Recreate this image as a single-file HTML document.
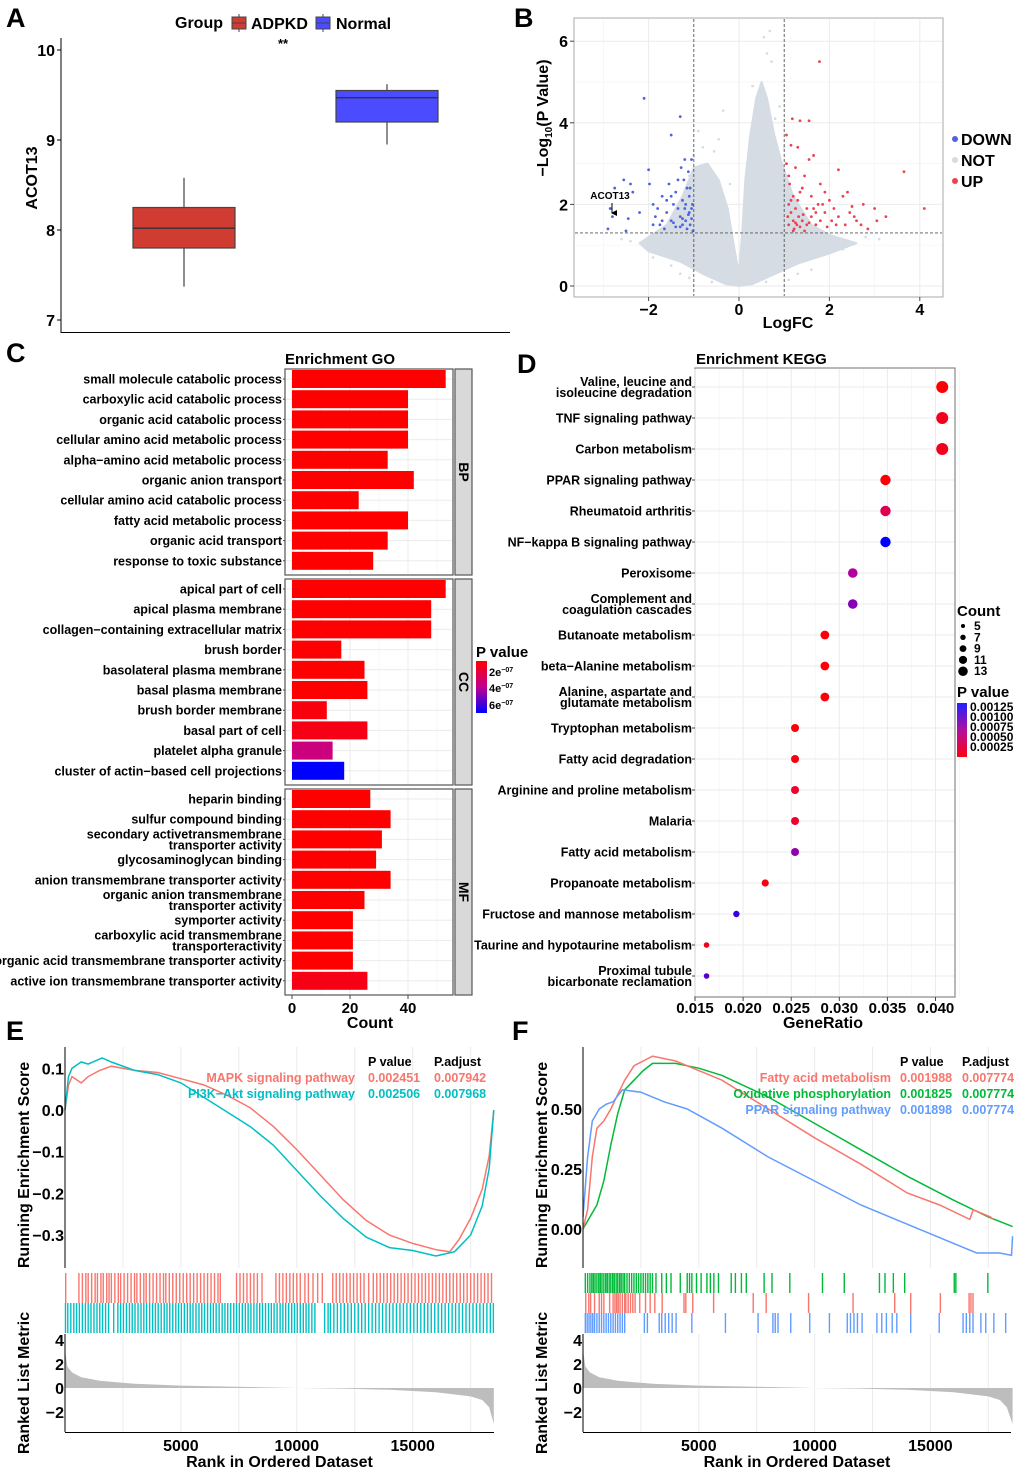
<!DOCTYPE html>
<html><head><meta charset="utf-8"><style>
html,body{margin:0;padding:0;background:#fff;}
svg{display:block;font-family:"Liberation Sans",Arial,sans-serif;font-weight:bold;}
</style></head><body>
<svg id="fig" width="1020" height="1471" viewBox="0 0 1020 1471" xmlns="http://www.w3.org/2000/svg">
<defs>
<linearGradient id="gGO" x1="0" y1="0" x2="0" y2="1"><stop offset="0" stop-color="#ff0000"/><stop offset="0.5" stop-color="#c0008f"/><stop offset="1" stop-color="#0000ff"/></linearGradient>
<linearGradient id="gKEGG" x1="0" y1="0" x2="0" y2="1"><stop offset="0" stop-color="#2020ff"/><stop offset="0.5" stop-color="#b010a0"/><stop offset="1" stop-color="#ff0010"/></linearGradient>
<marker id="arr" markerWidth="6" markerHeight="6" refX="3" refY="5" orient="auto"><path d="M0,0 L3,6 L6,0 Z" fill="#000"/></marker>
</defs>
</svg>
<script>
// ---------- DATA ----------
const boxGroups = ['ADPKD','Normal'];
const boxLow = [7.37, 8.95];
const boxQ1 = [7.80, 9.20];
const boxMed = [8.02, 9.47];
const boxQ3 = [8.25, 9.55];
const boxHigh = [8.58, 9.62];
const boxTicks = [7, 8, 9, 10];

const volDown = [[-2.85,1.9],[-2.75,2.4],[-2.55,2.6],[-2.4,2.5],[-2.35,2.3],[-2.1,4.6],[-2.0,2.85],[-1.98,2.5],[-1.9,2.0],[-1.85,1.7],[-1.8,1.9],[-1.75,1.5],[-1.7,2.2],[-1.65,1.4],[-1.6,1.8],[-1.55,2.5],[-1.5,3.7],[-1.5,1.6],[-1.45,2.0],[-1.4,2.3],[-1.4,1.45],[-1.35,2.6],[-1.3,4.15],[-1.3,1.7],[-1.28,2.9],[-1.25,1.5],[-1.25,2.1],[-1.2,1.9],[-1.2,3.1],[-1.18,1.6],[-1.15,2.4],[-1.15,1.4],[-1.12,2.8],[-1.1,1.8],[-1.1,2.2],[-1.08,1.5],[-1.05,3.1],[-1.05,1.65],[-1.03,2.0],[-1.02,1.35],[-1.6,2.1],[-1.7,1.6],[-1.9,1.5],[-2.2,1.8],[-2.5,1.35],[-2.9,1.4],[-2.45,1.65],[-1.35,1.9],[-1.22,2.6],[-1.45,1.55],[-2.8,1.7],[-1.12,1.75],[-1.08,2.4],[-1.3,1.45],[-1.5,2.2],[-1.05,1.9],[-1.18,2.0],[-1.25,1.65]];
const volUp = [[1.05,3.7],[1.05,3.0],[1.1,2.0],[1.1,1.5],[1.12,2.5],[1.15,3.45],[1.15,1.8],[1.18,4.1],[1.2,1.6],[1.2,2.2],[1.22,1.4],[1.25,2.9],[1.25,1.9],[1.28,1.5],[1.3,3.4],[1.3,2.1],[1.32,1.7],[1.35,4.05],[1.35,1.45],[1.4,2.4],[1.4,1.6],[1.45,2.7],[1.5,1.9],[1.5,1.5],[1.55,4.05],[1.55,3.1],[1.6,2.2],[1.6,1.7],[1.65,3.2],[1.7,1.5],[1.75,2.0],[1.78,5.5],[1.8,2.5],[1.8,1.6],[1.9,1.8],[1.95,1.45],[2.0,2.1],[2.05,1.6],[2.1,1.9],[2.2,2.85],[2.2,1.7],[2.3,2.2],[2.35,1.5],[2.4,2.3],[2.45,1.8],[2.5,1.95],[2.6,1.6],[2.7,1.5],[2.75,2.0],[2.85,1.4],[3.0,1.9],[3.05,1.6],[3.25,1.7],[3.65,2.8],[4.1,1.9],[1.1,2.7],[1.2,1.35],[1.45,1.35],[1.65,1.9],[1.9,2.3],[1.08,1.7],[1.15,2.1],[1.25,1.55],[1.35,2.3],[1.42,1.75],[1.55,1.55],[1.7,1.8],[1.85,2.0],[2.15,1.5],[2.55,1.7]];
const volNotOutline = [[-2.2,1.05],[-1.6,1.5],[-1.25,2.2],[-1.0,2.9],[-0.7,3.0],[-0.45,2.6],[-0.25,1.9],[-0.1,0.9],[0,0.3],[0.07,1.3],[0.14,2.6],[0.25,3.7],[0.38,4.6],[0.5,5.0],[0.62,4.6],[0.78,3.7],[0.95,3.0],[1.2,2.2],[1.6,1.5],[2.0,1.25],[2.6,1.05],[2.0,0.8],[1.3,0.55],[0.8,0.3],[0.3,0.05],[0,0],[-0.3,0.05],[-0.8,0.3],[-1.3,0.6],[-2.0,0.85]];
const volNotScatter = [[0.55,6.1],[0.68,6.25],[0.62,5.7],[0.72,5.5],[-0.35,4.3],[-0.9,3.8],[-0.55,3.3],[-0.45,3.6],[0.8,4.1],[-1.8,1.2],[-2.4,1.1],[-1.6,0.9],[1.8,1.0],[2.8,1.2],[3.1,1.15],[1.4,0.6],[-1.3,0.3],[1.3,0.3],[0.9,4.4],[0.3,4.9],[-1.0,3.2],[-0.8,3.4],[-0.2,2.5],[-1.1,2.7],[1.0,3.4],[-0.95,1.0],[0.95,1.0],[-1.5,0.5],[1.6,0.4],[2.3,0.9],[-2.6,1.15],[-1.9,0.7],[-0.6,0.1],[0.6,0.1],[1.1,0.15],[-1.1,0.2]];
const volXTicks = [-2, 0, 2, 4];
const volYTicks = [0, 2, 4, 6];

const goTerms = ['small molecule catabolic process','carboxylic acid catabolic process','organic acid catabolic process','cellular amino acid metabolic process','alpha\u2212amino acid metabolic process','organic anion transport','cellular amino acid catabolic process','fatty acid metabolic process','organic acid transport','response to toxic substance','apical part of cell','apical plasma membrane','collagen\u2212containing extracellular matrix','brush border','basolateral plasma membrane','basal plasma membrane','brush border membrane','basal part of cell','platelet alpha granule','cluster of actin\u2212based cell projections','heparin binding','sulfur compound binding','secondary activetransmembrane|transporter activity','glycosaminoglycan binding','anion transmembrane transporter activity','organic anion transmembrane|transporter activity','symporter activity','carboxylic acid transmembrane|transporteractivity','organic acid transmembrane transporter activity','active ion transmembrane transporter activity'];
const goCounts = [53,40,40,40,33,42,23,40,33,28, 53,48,48,17,25,26,12,26,14,18, 27,34,31,29,34,25,21,21,21,26];
const goPvals = [0.2,0.2,0.2,0.2,0.2,0.2,0.2,0.2,0.2,0.2, 0.2,0.2,0.2,0.2,0.2,0.2,0.5,0.7,3.0,7.0, 0.2,0.2,0.2,0.2,0.2,0.2,0.2,0.2,0.2,0.7];
const goOntology = ['BP','CC','MF'];
const goXTicks = [0, 20, 40];

const keggTerms = ['Valine, leucine and|isoleucine degradation','TNF signaling pathway','Carbon metabolism','PPAR signaling pathway','Rheumatoid arthritis','NF\u2212kappa B signaling pathway','Peroxisome','Complement and|coagulation cascades','Butanoate metabolism','beta\u2212Alanine metabolism','Alanine, aspartate and|glutamate metabolism','Tryptophan metabolism','Fatty acid degradation','Arginine and proline metabolism','Malaria','Fatty acid metabolism','Propanoate metabolism','Fructose and mannose metabolism','Taurine and hypotaurine metabolism','Proximal tubule|bicarbonate reclamation'];
const keggRatio = [0.0407,0.0407,0.0407,0.0348,0.0348,0.0348,0.0314,0.0314,0.0285,0.0285,0.0285,0.0254,0.0254,0.0254,0.0254,0.0254,0.0223,0.0193,0.0162,0.0162];
const keggCount = [14,14,14,12,12,12,11,11,10,10,10,9,9,9,9,9,8,7,6,6];
const keggPval = [0.00002,0.00012,0.00012,0.00003,0.00035,0.00130,0.00070,0.00085,0.00003,0.00003,0.00003,0.00004,0.00008,0.00020,0.00020,0.00080,0.00008,0.00110,0.00012,0.00100];
const keggXTicks = [0.015,0.020,0.025,0.030,0.035,0.040];
const keggCountLegend = [5,7,9,11,13];
const keggPLegend = ['0.00125','0.00100','0.00075','0.00050','0.00025'];

const esMapk = [[0,0],[150,0.06],[300,0.08],[700,0.065],[1000,0.08],[1500,0.095],[2000,0.105],[3000,0.095],[4000,0.09],[5000,0.075],[6000,0.06],[7000,0.035],[8000,0.005],[9000,-0.04],[10000,-0.095],[11000,-0.155],[12000,-0.215],[13000,-0.265],[14000,-0.3],[15000,-0.32],[16000,-0.335],[16600,-0.34],[17000,-0.31],[17500,-0.26],[18000,-0.19],[18300,-0.11],[18500,0]];
const esPi3k = [[0,0],[150,0.08],[300,0.1],[700,0.115],[1000,0.11],[1600,0.125],[2000,0.115],[3000,0.095],[4000,0.085],[5000,0.065],[6000,0.03],[7000,-0.005],[8000,-0.04],[9000,-0.085],[10000,-0.145],[11000,-0.205],[12000,-0.26],[13000,-0.305],[14000,-0.33],[15000,-0.337],[16000,-0.35],[16800,-0.34],[17500,-0.3],[18000,-0.23],[18300,-0.14],[18500,0]];
const hitsMapk = [30,600,750,900,1000,1150,1300,1400,1550,1650,1800,1900,2000,2150,2300,2400,2550,2700,2850,3000,3100,3250,3400,3500,3650,3800,3950,4100,4250,4350,4500,4650,4800,4950,5100,5250,5400,5550,5700,5850,6000,6150,6300,6450,6600,6700,7400,7550,7700,7850,8000,8150,8300,8500,9100,9250,9400,9550,9700,9850,10000,10150,10350,10500,10700,10900,11100,11550,11700,11850,12000,12150,12300,12450,12600,12750,12900,13100,13300,13450,13600,13750,13900,14050,14200,14350,14500,14650,14800,14950,15100,15250,15400,15550,15700,15850,16000,16150,16300,16450,16600,16750,16900,17050,17200,17350,17500,17650,17800,17950,18100,18250,18400];
const hitsPi3k = [20,120,250,380,500,620,750,880,1000,1120,1250,1380,1500,1620,1750,1880,2100,2280,2400,2520,2650,2780,2900,3020,3150,3280,3400,3520,3650,3780,3900,4020,4150,4280,4400,4520,4650,4780,4900,5020,5150,5280,5400,5520,5650,5780,5900,6020,6150,6280,6400,6520,6650,6780,6900,7020,7150,7280,7400,7520,7650,7780,7900,8020,8150,8280,8400,8520,8650,8780,8900,9020,9150,9280,9400,9520,9650,9780,9900,10020,10150,10280,10400,10520,10650,10780,11200,11350,11450,11600,11750,11900,12050,12200,12350,12500,12650,12800,12950,13100,13250,13400,13550,13700,13850,14000,14150,14300,14450,14600,14750,14900,15050,15200,15350,15500,15650,15800,15950,16100,16250,16400,16550,16700,16850,17000,17150,17300,17450,17600,17750,17900,18050,18200,18350,18480];
const metricE = [[0,3.2],[100,1.8],[300,1.3],[700,0.9],[1500,0.6],[3000,0.35],[5000,0.2],[8000,0.08],[10000,0],[12000,-0.05],[14000,-0.15],[16000,-0.35],[17500,-0.7],[18000,-1.0],[18300,-1.6],[18500,-3.0]];

const esFatty = [[0,0],[200,0.08],[400,0.3],[600,0.42],[900,0.45],[1200,0.5],[1500,0.56],[1800,0.62],[2200,0.68],[2600,0.7],[3000,0.72],[4000,0.7],[5000,0.66],[6000,0.62],[8000,0.5],[10000,0.38],[12000,0.27],[14000,0.15],[15400,0.1],[16700,0.04],[16850,0.08],[17600,0.05],[17700,0.04]];
const esOxphos = [[0,0],[300,0.05],[600,0.1],[900,0.2],[1200,0.35],[1500,0.48],[1800,0.58],[2200,0.62],[2600,0.66],[3000,0.69],[4000,0.69],[5000,0.67],[6000,0.64],[8000,0.55],[10000,0.44],[12000,0.33],[14000,0.22],[16000,0.12],[17500,0.05],[18550,0.01]];
const esPpar = [[0,0.05],[200,0.3],[400,0.45],[700,0.5],[1000,0.52],[1300,0.53],[1700,0.58],[2500,0.57],[3500,0.53],[4500,0.5],[6000,0.42],[8000,0.3],[10000,0.2],[12000,0.1],[14000,0.02],[16000,-0.06],[17000,-0.1],[18000,-0.1],[18500,-0.11],[18550,-0.03]];
const hitsOxphos = [100,200,300,380,450,520,600,680,750,820,900,980,1050,1130,1200,1280,1350,1430,1500,1580,1650,1730,1800,1900,2000,2100,2200,2300,2400,2500,2600,2700,2800,2900,3000,3150,3400,3600,3800,4200,4500,4600,4700,4900,5100,5350,5500,5650,5850,6400,6580,6840,7050,7820,8160,8930,10340,11280,12800,13040,13400,13890,16030,16100,17480];
const hitsFatty = [120,250,330,500,700,800,900,1150,1300,1380,1450,1520,1600,1700,1800,1850,1950,2050,2150,2250,2450,2700,2900,3100,3420,4360,4440,4740,5640,7350,7910,9740,11660,13460,14150,15430,16670,16750,16840];
const hitsPpar = [100,180,260,340,420,500,600,700,800,900,1000,1100,1200,1300,1400,1500,1600,1700,1800,2650,2780,3290,3400,3550,3700,3850,4020,4700,6150,7560,8200,8300,8420,8970,9790,10640,11410,11550,11700,11850,12050,12690,12900,13100,13350,13550,14150,15380,16410,16550,16700,16840,17180,17390,17740,18250];
const metricF = [[0,3.2],[100,1.8],[300,1.3],[700,0.9],[1500,0.6],[3000,0.35],[5000,0.2],[8000,0.08],[10000,0],[12000,-0.05],[14000,-0.15],[16000,-0.35],[17500,-0.7],[18000,-1.0],[18300,-1.6],[18550,-3.0]];
const rankTicks = [5000, 10000, 15000];
const esTicksE = [0.1, 0.0, -0.1, -0.2, -0.3];
const esTicksF = [0.50, 0.25, 0.00];
const metricTicks = [4, 2, 0, -2];

// ---------- HELPERS ----------
const NS = 'http://www.w3.org/2000/svg';
const svg = document.getElementById('fig');
function mk(tag, attrs, name, parent) {
  const e = document.createElementNS(NS, tag);
  for (const k in attrs) e.setAttribute(k, attrs[k]);
  
  
  (parent || svg).appendChild(e);
  return e;
}
function txt(x, y, s, size, name, anchor, fill, rot) {
  const a = {x: x, y: y, 'font-size': size, 'text-anchor': anchor || 'start', fill: fill || '#000'};
  if (rot) a.transform = 'rotate(' + rot + ' ' + x + ' ' + y + ')';
  const t = mk('text', a, name);
  t.textContent = s;
  return t;
}
function line(x1, y1, x2, y2, stroke, w, name, extra) {
  const a = {x1: x1, y1: y1, x2: x2, y2: y2, stroke: stroke, 'stroke-width': w};
  if (extra) for (const k in extra) a[k] = extra[k];
  return mk('line', a, name);
}
function fmtNeg(v, d) { const s = Math.abs(v).toFixed(d); return (v < 0 ? '\u2212' : '') + s; }
function triMix(t) { // red -> magenta -> blue
  t = Math.max(0, Math.min(1, t));
  let r, g = 0, b;
  if (t < 0.5) { const u = t / 0.5; r = 255 + (192 - 255) * u; b = 0 + 150 * u; }
  else { const u = (t - 0.5) / 0.5; r = 192 * (1 - u); b = 150 + 105 * u; }
  return 'rgb(' + Math.round(r) + ',' + g + ',' + Math.round(b) + ')';
}

// ---------- PANEL A ----------
txt(6, 27, 'A', 27, 'panel-label-a');
const ay = v => 50 + (10 - v) * 90;
const axc = [184, 387];
txt(175, 28, 'Group', 16, 'legend-title-group');
[['#d03c32', 232, 'ADPKD', 251], ['#4b4bff', 316, 'Normal', 336]].forEach((g, i) => {
  line(g[1] + 7, 14, g[1] + 7, 32, '#444', 1, 'legend-whisker');
  mk('rect', {x: g[1], y: 17, width: 14, height: 12, fill: g[0], stroke: '#444', 'stroke-width': 1}, 'legend-swatch-' + g[2].toLowerCase());
  line(g[1], 23, g[1] + 14, 23, '#444', 1, 'legend-median');
  txt(g[3], 29, g[2], 16, 'legend-label-' + g[2].toLowerCase());
});
txt(283, 48, '**', 13, 'significance-stars', 'middle');
line(61, 38, 61, 333, '#000', 1, 'a-y-axis');
line(61, 332.5, 510, 332.5, '#000', 1, 'a-x-axis');
boxTicks.forEach(v => {
  line(57, ay(v), 61, ay(v), '#000', 1, 'a-y-tick');
  txt(55, ay(v) + 6, String(v), 16, 'a-y-tick-label', 'end');
});
txt(37, 178, 'ACOT13', 16, 'a-y-axis-title', 'middle', '#000', -90);
const boxFill = ['#d03c32', '#4b4bff'];
boxGroups.forEach((g, i) => {
  const cx = axc[i];
  line(cx, ay(boxLow[i]), cx, ay(boxHigh[i]), '#444', 1.2, 'whisker-' + g.toLowerCase());
  mk('rect', {x: cx - 51, y: ay(boxQ3[i]), width: 102, height: ay(boxQ1[i]) - ay(boxQ3[i]), fill: boxFill[i], stroke: '#444', 'stroke-width': 1.2}, 'box-' + g.toLowerCase());
  line(cx - 51, ay(boxMed[i]), cx + 51, ay(boxMed[i]), '#333', 1.4, 'median-' + g.toLowerCase());
});

// ---------- PANEL B ----------
txt(514, 27, 'B', 27, 'panel-label-b');
const bx = v => 739 + v * 45.2;
const by = v => 286 - v * 40.8;
mk('rect', {x: 574, y: 18, width: 369, height: 279, fill: '#fff', stroke: '#aaa', 'stroke-width': 1}, 'volcano-plot-area');
[-3, -1, 1, 3].forEach(v => line(bx(v), 19, bx(v), 296, '#f4f4f4', 0.7, 'b-minor-grid'));
[1, 3, 5].forEach(v => line(575, by(v), 942, by(v), '#f4f4f4', 0.7, 'b-minor-grid'));
volXTicks.forEach(v => line(bx(v), 19, bx(v), 296, '#ebebeb', 1, 'b-major-grid'));
volYTicks.forEach(v => line(575, by(v), 942, by(v), '#ebebeb', 1, 'b-major-grid'));
const notPts = volNotOutline.map(p => bx(p[0]).toFixed(1) + ',' + by(p[1]).toFixed(1)).join(' ');
mk('polygon', {points: notPts, fill: '#d5dce4', stroke: '#d5dce4', 'stroke-width': 2, 'stroke-linejoin': 'round'}, 'not-significant-cloud');
volNotScatter.forEach(p => mk('circle', {cx: bx(p[0]), cy: by(p[1]), r: 1.3, fill: '#d5dce4'}, 'point-not'));
volDown.forEach(p => mk('circle', {cx: bx(p[0]), cy: by(p[1]), r: 1.4, fill: '#4f63e0'}, 'point-down'));
volUp.forEach(p => mk('circle', {cx: bx(p[0]), cy: by(p[1]), r: 1.4, fill: '#f0404f'}, 'point-up'));
line(bx(-1), 19, bx(-1), 296, '#555', 0.9, 'threshold-logfc-neg', {'stroke-dasharray': '3,2'});
line(bx(1), 19, bx(1), 296, '#555', 0.9, 'threshold-logfc-pos', {'stroke-dasharray': '3,2'});
line(575, by(1.3), 942, by(1.3), '#555', 0.9, 'threshold-pvalue', {'stroke-dasharray': '3,2'});
volXTicks.forEach(v => {
  line(bx(v), 297, bx(v), 301, '#444', 1, 'b-x-tick');
  txt(bx(v), 315, fmtNeg(v, 0), 16, 'b-x-tick-label', 'middle');
});
volYTicks.forEach(v => {
  line(570, by(v), 574, by(v), '#444', 1, 'b-y-tick');
  txt(568, by(v) + 6, String(v), 16, 'b-y-tick-label', 'end');
});
txt(788, 328, 'LogFC', 16, 'b-x-axis-title', 'middle');
const yt = txt(548, 118, '\u2212Log', 16, 'b-y-axis-title', 'middle', '#000', -90);
const ts1 = mk('tspan', {'font-size': 10, dy: 4}, 'b-y-title-subscript', yt); ts1.textContent = '10';
const ts2 = mk('tspan', {dy: -4}, 'b-y-title-rest', yt); ts2.textContent = '(P Value)';
txt(610, 199, 'ACOT13', 10, 'acot13-label', 'middle');
line(612, 203, 612, 213, '#000', 1, 'acot13-arrow', {'marker-end': 'url(#arr)'});
[['DOWN', '#4f63e0', 139], ['NOT', '#d5dce4', 160], ['UP', '#f0404f', 181]].forEach(l => {
  mk('circle', {cx: 955, cy: l[2], r: 3, fill: l[1]}, 'legend-dot-' + l[0].toLowerCase());
  txt(961, l[2] + 6, l[0], 16, 'legend-label-' + l[0].toLowerCase());
});

// ---------- PANEL C ----------
txt(6, 362, 'C', 27, 'panel-label-c');
txt(285, 364, 'Enrichment GO', 15, 'go-title');
const cx0 = c => 292 + c * 2.9;
const pcolor = p => triMix((p - 0.2) / 6.8);
const facetTop = [369, 579, 789];
goOntology.forEach((o, f) => {
  const top = facetTop[f];
  mk('rect', {x: 285, y: top, width: 168, height: 206, fill: '#fff', stroke: '#555', 'stroke-width': 1.2}, 'go-facet-' + o.toLowerCase());
  [10, 30, 50].forEach(v => line(cx0(v), top + 1, cx0(v), top + 205, '#f4f4f4', 0.7, 'go-minor-grid'));
  goXTicks.forEach(v => line(cx0(v), top + 1, cx0(v), top + 205, '#ebebeb', 1, 'go-major-grid'));
  for (let i = 0; i < 10; i++) line(286, top + 10 + i * 20.2, 452, top + 10 + i * 20.2, '#ebebeb', 1, 'go-row-grid');
  mk('rect', {x: 455, y: top, width: 17, height: 206, fill: '#d9d9d9', stroke: '#555', 'stroke-width': 1.2}, 'go-strip-' + o.toLowerCase());
  txt(459, top + 103, o, 14, 'go-strip-label-' + o.toLowerCase(), 'middle', '#000', 90);
});
goTerms.forEach((term, i) => {
  const f = Math.floor(i / 10), k = i % 10;
  const yc = facetTop[f] + 10 + k * 20.2;
  mk('rect', {x: cx0(0), y: yc - 9, width: cx0(goCounts[i]) - cx0(0), height: 18, fill: pcolor(goPvals[i])}, 'go-bar');
  line(283, yc, 285, yc, '#444', 1, 'go-y-tick');
  const parts = term.split('|');
  if (parts.length === 1) txt(282, yc + 4.5, term, 12.5, 'go-term-label', 'end');
  else { txt(282, yc - 1, parts[0], 12.5, 'go-term-label', 'end'); txt(282, yc + 10, parts[1], 12.5, 'go-term-label', 'end'); }
});
goXTicks.forEach(v => {
  line(cx0(v), 995, cx0(v), 999, '#444', 1, 'go-x-tick');
  txt(cx0(v), 1013, String(v), 15, 'go-x-tick-label', 'middle');
});
txt(370, 1028, 'Count', 16, 'go-x-axis-title', 'middle');
txt(476, 657, 'P value', 15, 'go-legend-title');
mk('rect', {x: 476, y: 661, width: 11, height: 52, fill: 'url(#gGO)'}, 'go-legend-colorbar');
[['2e', 676], ['4e', 692], ['6e', 709]].forEach(l => {
  const t = txt(489, l[1], l[0], 11, 'go-legend-label');
  const s = mk('tspan', {'font-size': 7, dy: -4}, 'go-legend-exponent', t); s.textContent = '\u221207';
});

// ---------- PANEL D ----------
txt(517, 373, 'D', 27, 'panel-label-d');
txt(696, 364, 'Enrichment KEGG', 15, 'kegg-title');
const kx = v => 695 + (v - 0.015) * 9620;
const ky = i => 387 + i * 31;
mk('rect', {x: 695, y: 368, width: 260, height: 629, fill: '#fff', stroke: '#888', 'stroke-width': 1.2}, 'kegg-plot-area');
keggXTicks.forEach(v => { line(kx(v), 369, kx(v), 996, '#ebebeb', 1, 'kegg-major-grid'); line(kx(v + 0.0025), 369, kx(v + 0.0025), 996, '#f4f4f4', 0.7, 'kegg-minor-grid'); });
keggTerms.forEach((term, i) => line(696, ky(i), 954, ky(i), '#ebebeb', 1, 'kegg-row-grid'));
const kcolor = p => triMix(p / 0.0013);
const kr = c => 0.4 * c + 0.4;
keggTerms.forEach((term, i) => {
  mk('circle', {cx: kx(keggRatio[i]), cy: ky(i), r: kr(keggCount[i]), fill: kcolor(keggPval[i])}, 'kegg-point');
  line(692, ky(i), 695, ky(i), '#444', 1, 'kegg-y-tick');
  const parts = term.split('|');
  if (parts.length === 1) txt(692, ky(i) + 4.5, term, 12.5, 'kegg-term-label', 'end');
  else { txt(692, ky(i) - 1, parts[0], 12.5, 'kegg-term-label', 'end'); txt(692, ky(i) + 10, parts[1], 12.5, 'kegg-term-label', 'end'); }
});
keggXTicks.forEach(v => {
  line(kx(v), 997, kx(v), 1001, '#444', 1, 'kegg-x-tick');
  txt(kx(v), 1013, v.toFixed(3), 15, 'kegg-x-tick-label', 'middle');
});
txt(823, 1028, 'GeneRatio', 16, 'kegg-x-axis-title', 'middle');
txt(957, 616, 'Count', 15, 'kegg-count-legend-title');
keggCountLegend.forEach((c, i) => {
  mk('circle', {cx: 963, cy: 626 + i * 11.3, r: kr(c) * 0.85, fill: '#000'}, 'kegg-count-legend-dot');
  txt(974, 630 + i * 11.3, String(c), 12, 'kegg-count-legend-label');
});
txt(957, 697, 'P value', 15, 'kegg-pvalue-legend-title');
mk('rect', {x: 957, y: 703, width: 10, height: 54, fill: 'url(#gKEGG)'}, 'kegg-pvalue-colorbar');
keggPLegend.forEach((l, i) => txt(970, 711 + i * 10, l, 12, 'kegg-pvalue-legend-label'));

// ---------- GSEA helpers ----------
function gsea(opt) {
  const X = r => opt.x0 + r * opt.k;
  const ES = v => opt.zeroY + -v * opt.esScale;
  const M = v => 1388 - v * 12;
  for (let r = 2500; r <= 18000; r += 2500) {
    line(X(r), opt.top, X(r), 1268, '#ebebeb', 1, 'gsea-grid-top');
    line(X(r), 1334, X(r), 1432, '#ebebeb', 1, 'gsea-grid-bottom');
  }
  opt.curves.forEach(c => {
    mk('polyline', {points: c.pts.map(p => X(p[0]).toFixed(1) + ',' + ES(p[1]).toFixed(1)).join(' '), fill: 'none', stroke: c.color, 'stroke-width': 1.5}, 'es-curve-' + c.id);
  });
  line(opt.x0, opt.top, opt.x0, 1268, '#000', 1, 'es-y-axis');
  opt.esTicks.forEach(v => txt(opt.x0 - 1, ES(v) + 6, v === 0 ? (opt.esDec === 1 ? '0.0' : '0.00') : fmtNeg(v, opt.esDec), 16, 'es-y-tick-label', 'end'));
  opt.rugs.forEach((rg, j) => {
    rg.hits.forEach(h => line(X(h), rg.y0, X(h), rg.y1, rg.color, 1.4, 'rug-hit-' + rg.id));
  });
  const area = 'M' + X(0) + ',' + M(0) + ' ' + opt.metric.map(p => 'L' + X(p[0]).toFixed(1) + ',' + M(p[1]).toFixed(1)).join(' ') + ' L' + X(opt.metric[opt.metric.length - 1][0]) + ',' + M(0) + 'Z';
  mk('path', {d: area, fill: '#bdbdbd'}, 'ranked-metric-area');
  line(opt.x0, 1334, opt.x0, 1432, '#000', 1, 'metric-y-axis');
  line(opt.x0, 1432.5, opt.x1, 1432.5, '#000', 1, 'metric-x-axis');
  metricTicks.forEach(v => txt(opt.x0 - 1, M(v) + 6, fmtNeg(v, 0), 16, 'metric-y-tick-label', 'end'));
  rankTicks.forEach(r => txt(X(r), 1451, String(r), 16, 'rank-x-tick-label', 'middle'));
  txt((opt.x0 + opt.x1) / 2, 1467, 'Rank in Ordered Dataset', 16, 'rank-x-axis-title', 'middle');
  txt(opt.x0 - 36, 1165, 'Running Enrichment Score', 16, 'es-y-axis-title', 'middle', '#000', -90);
  txt(opt.x0 - 36, 1383, 'Ranked List Metric', 16, 'metric-y-axis-title', 'middle', '#000', -90);
}

// ---------- PANEL E ----------
txt(6, 1040, 'E', 27, 'panel-label-e');
gsea({x0: 65, x1: 494, k: 0.02318, top: 1047, zeroY: 1110, esScale: 417, esDec: 1, esTicks: esTicksE, metric: metricE,
  curves: [{id: 'mapk', color: '#f8766d', pts: esMapk}, {id: 'pi3k', color: '#00bfc4', pts: esPi3k}],
  rugs: [{id: 'mapk', color: '#f8766d', hits: hitsMapk, y0: 1273, y1: 1303}, {id: 'pi3k', color: '#00bfc4', hits: hitsPi3k, y0: 1303, y1: 1333}]});
txt(368, 1066, 'P value', 12.5, 'e-pvalue-header');
txt(434, 1066, 'P.adjust', 12.5, 'e-padjust-header');
txt(355, 1082, 'MAPK signaling pathway', 12.5, 'e-mapk-label', 'end', '#f8766d');
txt(368, 1082, '0.002451', 12.5, 'e-mapk-pvalue', 'start', '#f8766d');
txt(434, 1082, '0.007942', 12.5, 'e-mapk-padjust', 'start', '#f8766d');
txt(355, 1098, 'PI3K\u2212Akt signaling pathway', 12.5, 'e-pi3k-label', 'end', '#00bfc4');
txt(368, 1098, '0.002506', 12.5, 'e-pi3k-pvalue', 'start', '#00bfc4');
txt(434, 1098, '0.007968', 12.5, 'e-pi3k-padjust', 'start', '#00bfc4');

// ---------- PANEL F ----------
txt(512, 1040, 'F', 27, 'panel-label-f');
gsea({x0: 583, x1: 1011, k: 0.02316, top: 1047, zeroY: 1229, esScale: 240, esDec: 2, esTicks: esTicksF, metric: metricF,
  curves: [{id: 'oxphos', color: '#00ba38', pts: esOxphos}, {id: 'fatty', color: '#f8766d', pts: esFatty}, {id: 'ppar', color: '#619cff', pts: esPpar}],
  rugs: [{id: 'oxphos', color: '#00ba38', hits: hitsOxphos, y0: 1273, y1: 1293}, {id: 'fatty', color: '#f8766d', hits: hitsFatty, y0: 1293, y1: 1313}, {id: 'ppar', color: '#619cff', hits: hitsPpar, y0: 1313, y1: 1333}]});
txt(900, 1066, 'P value', 12.5, 'f-pvalue-header');
txt(962, 1066, 'P.adjust', 12.5, 'f-padjust-header');
txt(891, 1082, 'Fatty acid metabolism', 12.5, 'f-fatty-label', 'end', '#f8766d');
txt(900, 1082, '0.001988', 12.5, 'f-fatty-pvalue', 'start', '#f8766d');
txt(962, 1082, '0.007774', 12.5, 'f-fatty-padjust', 'start', '#f8766d');
txt(891, 1098, 'Oxidative phosphorylation', 12.5, 'f-oxphos-label', 'end', '#00ba38');
txt(900, 1098, '0.001825', 12.5, 'f-oxphos-pvalue', 'start', '#00ba38');
txt(962, 1098, '0.007774', 12.5, 'f-oxphos-padjust', 'start', '#00ba38');
txt(891, 1114, 'PPAR signaling pathway', 12.5, 'f-ppar-label', 'end', '#619cff');
txt(900, 1114, '0.001898', 12.5, 'f-ppar-pvalue', 'start', '#619cff');
txt(962, 1114, '0.007774', 12.5, 'f-ppar-padjust', 'start', '#619cff');
</script>
</body></html>
